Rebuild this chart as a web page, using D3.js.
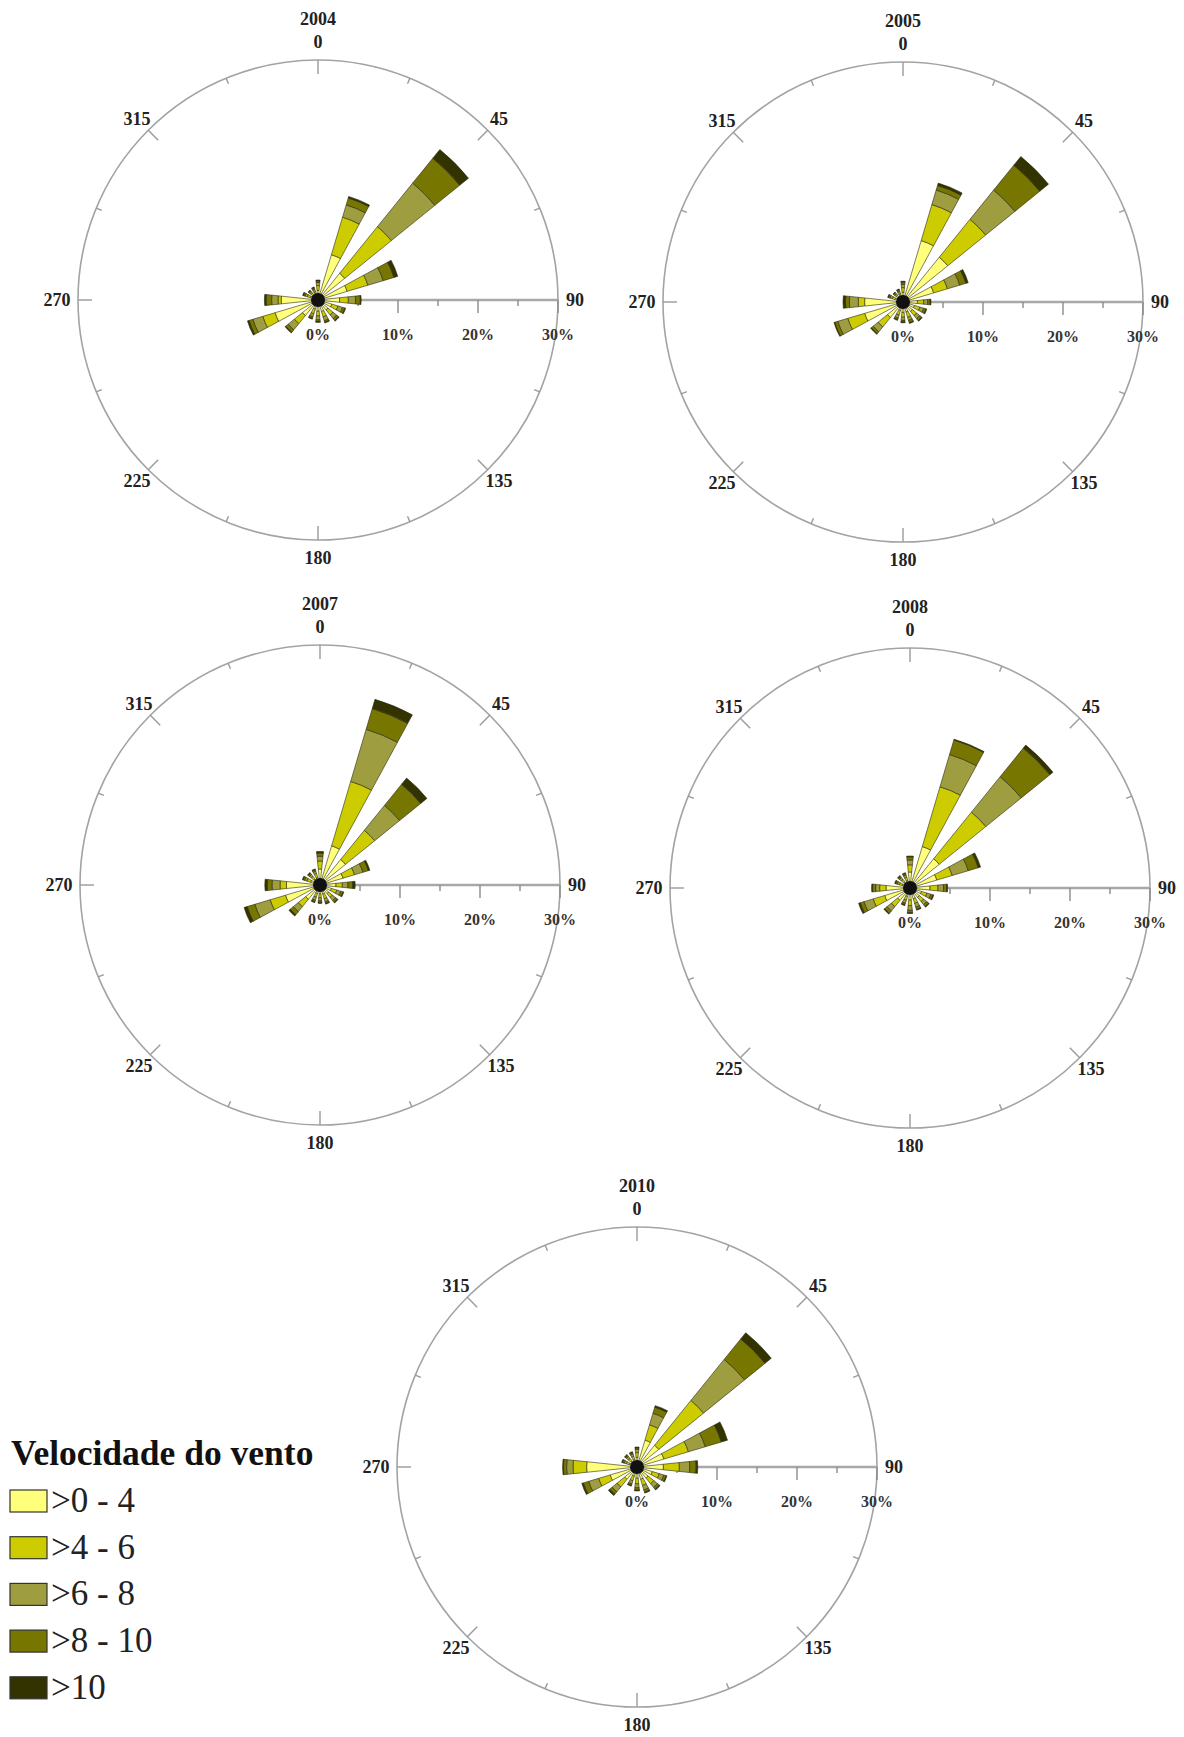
<!DOCTYPE html>
<html>
<head>
<meta charset="utf-8">
<script src="https://cdn.jsdelivr.net/npm/d3@7"></script>
<style>
  body { margin: 0; background: #fff; }
  text { font-family: "Liberation Serif", "Times New Roman", serif; }
</style>
</head>
<body>
<div id="chart"></div>
<script>
// wind direction bins (degrees, clockwise from north)
const directions = [0, 22.5, 45, 67.5, 90, 112.5, 135, 157.5, 180, 202.5, 225, 247.5, 270, 292.5, 315, 337.5];
const speedClasses = [">0 - 4", ">4 - 6", ">6 - 8", ">8 - 10", ">10"];
const classColors = ["#ffff7c", "#cccc00", "#9e9e40", "#767600", "#333300"];
const compassTicks = [0, 45, 90, 135, 180, 225, 270, 315];
const percentTicks = ["0%", "10%", "20%", "30%"];
const years = ["2004", "2005", "2007", "2008", "2010"];

// frequency (%) per direction, one column per speed class
const freq2004 = [
  [1.2, 0.6, 0.4, 0.2, 0.1], [5.9, 4.9, 1.6, 0.9, 0.2], [4.3, 7.5, 7.0, 4.0, 1.4], [3.8, 2.7, 2.0, 1.4, 0.5],
  [2.7, 1.1, 0.9, 0.6, 0.1], [1.8, 0.8, 0.6, 0.3, 0.1], [1.6, 0.8, 0.6, 0.3, 0.1], [1.5, 0.7, 0.5, 0.2, 0.1],
  [1.4, 0.6, 0.5, 0.2, 0.1], [1.2, 0.6, 0.4, 0.2, 0.1], [2.5, 1.3, 1.0, 0.4, 0.1], [5.6, 1.6, 1.3, 0.5, 0.2],
  [4.6, 0.4, 0.8, 0.7, 0.2], [1.0, 0.4, 0.3, 0.2, 0.1], [0.8, 0.3, 0.2, 0.2, 0.1], [0.8, 0.3, 0.3, 0.2, 0.1]
];
const freq2005 = [
  [1.2, 0.6, 0.4, 0.3, 0.1], [8.0, 4.7, 1.9, 0.6, 0.3], [7.2, 6.1, 4.7, 4.0, 1.4], [4.0, 1.8, 1.6, 0.8, 0.3],
  [1.8, 0.8, 0.5, 0.3, 0.1], [1.5, 0.7, 0.5, 0.3, 0.1], [1.5, 0.7, 0.5, 0.3, 0.1], [1.3, 0.7, 0.4, 0.3, 0.1],
  [1.3, 0.6, 0.4, 0.2, 0.1], [1.1, 0.6, 0.4, 0.2, 0.1], [2.5, 1.5, 0.8, 0.3, 0.1], [5.0, 2.2, 1.3, 0.4, 0.1],
  [4.8, 0.8, 1.1, 0.5, 0.3], [1.0, 0.4, 0.3, 0.2, 0.1], [0.8, 0.3, 0.2, 0.2, 0.1], [0.8, 0.3, 0.3, 0.2, 0.1]
];
const freq2007 = [
  [2.0, 1.0, 0.6, 0.4, 0.2], [5.1, 8.4, 6.8, 2.7, 1.2], [4.1, 4.7, 4.0, 3.4, 1.0], [3.0, 1.5, 1.1, 0.7, 0.2],
  [2.0, 0.8, 0.7, 0.6, 0.3], [1.5, 0.7, 0.5, 0.3, 0.1], [1.4, 0.6, 0.5, 0.3, 0.1], [1.2, 0.6, 0.4, 0.2, 0.1],
  [1.1, 0.5, 0.4, 0.2, 0.1], [1.1, 0.5, 0.4, 0.2, 0.1], [2.3, 1.2, 0.8, 0.5, 0.2], [4.5, 2.0, 2.0, 1.0, 0.4],
  [4.2, 0.8, 1.0, 0.6, 0.3], [1.2, 0.5, 0.3, 0.2, 0.1], [1.0, 0.4, 0.3, 0.2, 0.1], [1.0, 0.5, 0.3, 0.2, 0.1]
];
const freq2008 = [
  [2.0, 0.9, 0.6, 0.4, 0.1], [5.4, 7.8, 4.2, 1.9, 0.1], [4.7, 7.5, 5.7, 4.6, 0.5], [3.5, 2.0, 2.1, 1.3, 0.3],
  [2.5, 1.0, 0.7, 0.4, 0.1], [1.5, 0.7, 0.5, 0.3, 0.1], [1.5, 0.7, 0.5, 0.3, 0.1], [1.4, 0.6, 0.5, 0.3, 0.1],
  [1.5, 0.7, 0.6, 0.3, 0.1], [1.1, 0.5, 0.4, 0.2, 0.1], [2.0, 1.0, 0.7, 0.4, 0.1], [3.3, 1.5, 1.2, 0.5, 0.2],
  [3.0, 0.8, 0.5, 0.4, 0.1], [1.0, 0.4, 0.3, 0.2, 0.1], [1.0, 0.4, 0.3, 0.2, 0.1], [1.0, 0.4, 0.3, 0.2, 0.1]
];
const freq2010 = [
  [1.2, 0.6, 0.4, 0.2, 0.1], [3.5, 2.0, 1.5, 0.8, 0.2], [3.5, 7.2, 6.6, 3.3, 1.0], [3.5, 3.2, 2.2, 2.1, 0.8],
  [3.3, 2.0, 1.3, 0.8, 0.2], [2.0, 0.9, 0.6, 0.3, 0.1], [1.8, 0.9, 0.6, 0.3, 0.1], [1.6, 0.8, 0.6, 0.3, 0.1],
  [1.4, 0.7, 0.5, 0.3, 0.1], [1.2, 0.6, 0.4, 0.2, 0.1], [2.0, 1.2, 0.8, 0.4, 0.2], [3.5, 1.5, 1.3, 0.7, 0.2],
  [6.3, 1.7, 0.8, 0.4, 0.1], [1.0, 0.4, 0.3, 0.2, 0.1], [1.0, 0.4, 0.3, 0.2, 0.1], [1.0, 0.4, 0.3, 0.2, 0.1]
];
const yearFreqs = [freq2004, freq2005, freq2007, freq2008, freq2010];

const width = 1184, height = 1737;
const R = 240;
const centers = [[318, 300], [903, 302], [320, 885], [910, 888], [637, 1467]];
const halfWidth = 6 * Math.PI / 180; // each petal spans 12 degrees

const svg = d3.select("#chart").append("svg")
  .attr("width", width)
  .attr("height", height)
  .style("background", "#fff");

const r = d3.scaleLinear().domain([0, 30]).range([0, R]);
const color = d3.scaleOrdinal().domain(d3.range(speedClasses.length)).range(classColors);
const rad = d => d * Math.PI / 180;

function drawRose(cx, cy, year, freq) {
  const g = svg.append("g").attr("transform", "translate(" + cx + "," + cy + ")");

  // outer circle
  g.append("circle").attr("r", R)
    .attr("fill", "none").attr("stroke", "#a3a3a3").attr("stroke-width", 1.6);

  // compass ticks every 22.5 deg, long ones on the labelled directions
  d3.range(0, 360, 22.5).forEach(function(a) {
    const len = a % 45 === 0 ? 14 : 6;
    const s = Math.sin(rad(a)), c = -Math.cos(rad(a));
    g.append("line")
      .attr("x1", R * s).attr("y1", R * c)
      .attr("x2", (R - len) * s).attr("y2", (R - len) * c)
      .attr("stroke", "#9a9a9a").attr("stroke-width", 1.4);
  });

  // compass labels
  compassTicks.forEach(function(a) {
    const s = Math.sin(rad(a)), c = -Math.cos(rad(a));
    let dist = a % 90 === 0 ? R + 18 : R + 16;
    if (a === 90) dist = R + 17;
    if (a === 270) dist = R + 21;
    g.append("text")
      .attr("x", dist * s).attr("y", dist * c)
      .attr("text-anchor", "middle").attr("dominant-baseline", "central")
      .attr("font-size", 18).attr("font-weight", "bold").attr("fill", "#222")
      .text(a);
  });

  // title
  g.append("text")
    .attr("x", 0).attr("y", -R - 41)
    .attr("text-anchor", "middle").attr("dominant-baseline", "central")
    .attr("font-size", 18).attr("font-weight", "bold").attr("fill", "#222")
    .text(year);

  // radial axis along 90 deg
  g.append("line")
    .attr("x1", 0).attr("y1", 0).attr("x2", r(30)).attr("y2", 0)
    .attr("stroke", "#a8a8a8").attr("stroke-width", 2.5);
  d3.range(5, 31, 5).forEach(function(p) {
    g.append("line")
      .attr("x1", r(p)).attr("x2", r(p)).attr("y1", 0).attr("y2", p % 10 === 0 ? 13 : 6)
      .attr("stroke", "#8a8a8a").attr("stroke-width", 1.4);
  });
  percentTicks.forEach(function(t) {
    g.append("text")
      .attr("x", r(parseFloat(t))).attr("y", 34)
      .attr("text-anchor", "middle").attr("dominant-baseline", "central")
      .attr("font-size", 16).attr("font-weight", "bold").attr("fill", "#333")
      .text(t);
  });

  // petals, stacked by speed class
  const rows = directions.map(function(dir, i) {
    const row = { dir: dir };
    freq[i].forEach(function(v, k) { row[k] = v; });
    return row;
  });
  const series = d3.stack().keys(d3.range(speedClasses.length))(rows);
  const arc = d3.arc()
    .innerRadius(d => r(d[0]))
    .outerRadius(d => r(d[1]))
    .startAngle(d => rad(d.data.dir) - halfWidth)
    .endAngle(d => rad(d.data.dir) + halfWidth);

  g.selectAll("g.cls")
    .data(series)
    .enter().append("g")
    .attr("class", "cls")
    .attr("fill", d => color(d.key))
    .selectAll("path")
    .data(d => d)
    .enter().append("path")
    .attr("d", arc)
    .attr("stroke", "#2a2a10")
    .attr("stroke-width", 0.6);

  // calm centre
  g.append("circle").attr("r", 7).attr("fill", "#111");
}

years.forEach(function(y, i) {
  drawRose(centers[i][0], centers[i][1], y, yearFreqs[i]);
});

// legend
const legend = svg.append("g").attr("transform", "translate(10,1465)");
legend.append("text")
  .attr("x", 1).attr("y", 0)
  .attr("font-size", 35.5).attr("font-weight", "bold").attr("fill", "#111")
  .text("Velocidade do vento");
speedClasses.forEach(function(label, i) {
  const item = legend.append("g").attr("transform", "translate(0," + (25 + i * 46.7) + ")");
  item.append("rect")
    .attr("width", 37).attr("height", 22)
    .attr("fill", classColors[i]).attr("stroke", "#333").attr("stroke-width", 1.2);
  item.append("text")
    .attr("x", 41).attr("y", 22)
    .attr("font-size", 35).attr("fill", "#222")
    .text(label);
});
</script>
</body>
</html>
